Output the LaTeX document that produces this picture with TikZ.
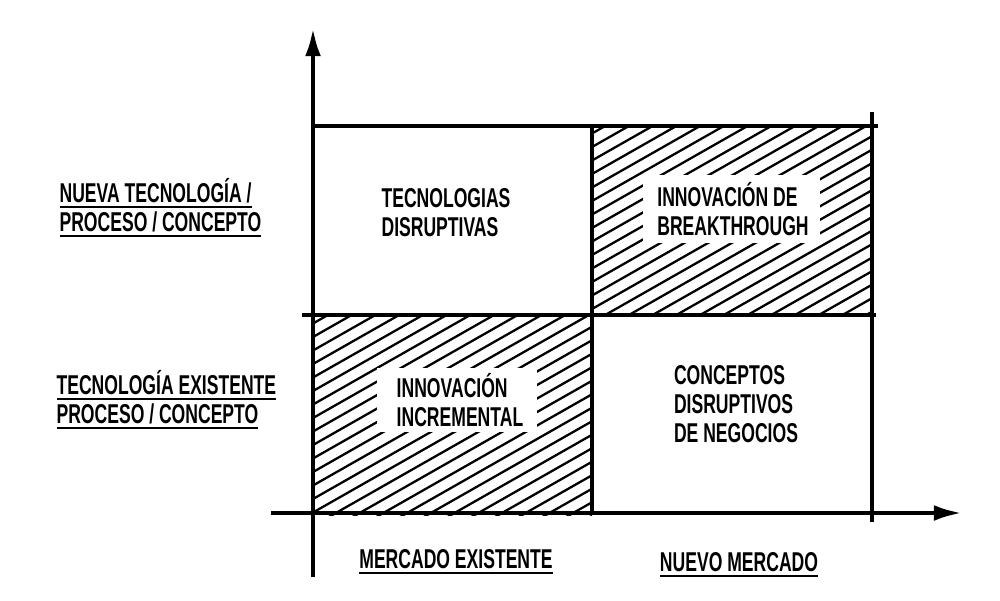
\documentclass[tikz,border=0pt]{standalone}
\usepackage{fontspec}
\setmainfont[FakeStretch=0.645]{Liberation Sans}
\usetikzlibrary{arrows.meta, positioning}
\newcommand{\ulbox}[1]{\setbox0\hbox{#1}\rlap{\rule[-3pt]{\wd0}{1.1pt}}\box0}
\tikzset{
  every picture/.style={x=0.02cm, y=-0.02cm, line width=1.8pt},
  axisline/.style={line width=2.4pt, -{Latex[length=16pt, width=9pt]}},
  gridline/.style={line width=1.8pt},
  hatchline/.style={line width=1.3pt},
  quad/.style={font=\fontsize{15.5}{16.5}\selectfont\bfseries, align=left, inner sep=0pt},
  whitebox/.style={fill=white, inner sep=0pt},
  axistext/.style={font=\fontsize{15.5}{16.5}\selectfont\bfseries, align=left, inner sep=0pt},
}
\begin{document}
\begin{tikzpicture}
  \useasboundingbox (0,0) rectangle (1000,601);
  % corners of the grid
  \coordinate (o) at (313,513);
  \coordinate (tl) at (313,126);
  \coordinate (tm) at (592,126);
  \coordinate (tr) at (878,126);
  \coordinate (ml) at (302,315);
  \coordinate (mm) at (592,315);
  \coordinate (mr) at (876,315);
  \coordinate (bm) at (592,515);
  \coordinate (rt) at (872,112);
  \coordinate (rb) at (872,522);
  \coordinate (ytop) at (313,28);
  \coordinate (ybot) at (313,577);
  \coordinate (xleft) at (271,513);
  \coordinate (xright) at (962,513);
  % hatching of the two shaded quadrants
  \begin{scope}
    \clip (tm) rectangle (872,315);
    \foreach \y in {120,133.5,...,520} {\draw[hatchline] (592,\y) -- ++(290,-165);}
  \end{scope}
  \begin{scope}
    \clip (313,315) rectangle (bm);
    \foreach \y in {310,323.5,...,700} {\draw[hatchline] (313,\y) -- ++(290,-165);}
  \end{scope}
  % white boxes behind the texts
  \fill[whitebox] (643,175) rectangle (820,243);
  \fill[whitebox] (377,368) rectangle (537,432);
  % grid
  \draw[gridline] (tl) -- (tr);
  \draw[gridline] (ml) -- (mr);
  \draw[gridline] (tm) -- (bm);
  \draw[gridline] (rt) -- (rb);
  % axes
  \draw[axisline] (ybot) -- (ytop);
  \draw[axisline] (xleft) -- (xright);
  % quadrant texts
  \node[quad] (tecdis) at (446,213) {TECNOLOGIAS\\DISRUPTIVAS};
  \node[quad] (break) at (733,209) {INNOVACIÓN DE\\BREAKTHROUGH};
  \node[quad] (inc) at (460,400) {INNOVACIÓN\\INCREMENTAL};
  \node[quad] (condis) at (736,404) {CONCEPTOS\\DISRUPTIVOS\\DE NEGOCIOS};
  % axis texts
  \node[axistext, anchor=west] (ynew) at (58,208) {\ulbox{NUEVA TECNOLOGÍA /}\\\ulbox{PROCESO / CONCEPTO}};
  \node[axistext, anchor=west] (yold) at (55,400) {\ulbox{TECNOLOGÍA EXISTENTE}\\\ulbox{PROCESO / CONCEPTO}};
  \node[axistext] (xold) at (456,562) {\ulbox{MERCADO EXISTENTE}};
  \node[axistext] (xnew) at (739,565) {\ulbox{NUEVO MERCADO}};
\end{tikzpicture}
\end{document}
